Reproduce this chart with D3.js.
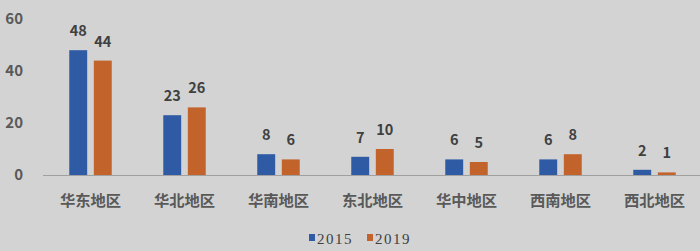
<!DOCTYPE html>
<html><head><meta charset="utf-8">
<script src="https://cdn.jsdelivr.net/npm/d3@7"></script>
<style>html,body{margin:0;padding:0;background:#d3d3d3;}svg{display:block;}</style>
</head><body>
<svg id="c" width="700" height="251"></svg>
<script>
const categories = ["华东地区","华北地区","华南地区","东北地区","华中地区","西南地区","西北地区"];
const seriesNames = ["2015","2019"];
const values2015 = [48,23,8,7,6,6,2];
const values2019 = [44,26,6,10,5,8,1];
const yTicks = [0,20,40,60];
const colors = ["#2f5ba4","#c2632c"];

const svg = d3.select("#c");
svg.append("rect").attr("width",700).attr("height",251).attr("fill","#d3d3d3");
const x = d3.scaleBand().domain(categories).range([43.5,701.5]).paddingInner(0).paddingOuter(0);
const x1 = d3.scaleBand().domain(seriesNames).range([0, x.bandwidth()]).paddingInner(0.27).paddingOuter(1.05);
const y = d3.scaleLinear().domain([0,60]).range([175,19]);
const cjk = "'Noto Sans CJK SC','Noto Sans',sans-serif";

// y tick labels
svg.append("g").selectAll("text").data(yTicks).join("text")
  .attr("x",23).attr("y",d=>y(d)).attr("dy","0.35em").attr("text-anchor","end")
  .attr("font-family",cjk).attr("font-weight","bold").attr("font-size",15).attr("fill","#595959")
  .text(d=>d);

const data = categories.map((c,i)=>({c, v:[values2015[i], values2019[i]]}));
const g = svg.append("g").selectAll("g").data(data).join("g").attr("transform",d=>`translate(${x(d.c)},0)`);
g.selectAll("rect").data(d=>d.v.map((v,j)=>({v,s:seriesNames[j],j}))).join("rect")
  .attr("x",d=>x1(d.s)).attr("width",x1.bandwidth())
  .attr("y",d=>y(d.v)).attr("height",d=>y(0)-y(d.v)).attr("fill",d=>colors[d.j]);
g.selectAll("text").data(d=>d.v.map((v,j)=>({v,s:seriesNames[j],j}))).join("text")
  .attr("x",d=>x1(d.s)+x1.bandwidth()/2).attr("y",d=>y(d.v)-14).attr("text-anchor","middle")
  .attr("font-family",cjk).attr("font-weight","bold").attr("font-size",14.5).attr("fill","#404040")
  .text(d=>d.v);

// axis line
svg.append("line").attr("x1",43).attr("x2",700).attr("y1",y(0)+0.5).attr("y2",y(0)+0.5)
  .attr("stroke","#a0a0a0").attr("stroke-width",1);

// category labels
svg.append("g").selectAll("text").data(categories).join("text")
  .attr("x",d=>x(d)+x.bandwidth()/2).attr("y",201).attr("dy","0.35em").attr("text-anchor","middle")
  .attr("font-family",cjk).attr("font-weight","bold").attr("font-size",15.3).attr("fill","#595959")
  .text(d=>d);

// legend
const legX = [309, 367];
const lg = svg.append("g").selectAll("g").data(seriesNames).join("g").attr("transform",(d,i)=>`translate(${legX[i]},0)`);
lg.append("rect").attr("x",0).attr("y",234).attr("width",6).attr("height",7).attr("fill",(d,i)=>colors[i]);
lg.append("text").attr("x",8).attr("y",244).attr("font-family","'Liberation Serif','Times New Roman',serif")
  .attr("font-size",15).attr("letter-spacing",1.5).attr("fill","#404040").text(d=>d);
</script>
</body></html>
